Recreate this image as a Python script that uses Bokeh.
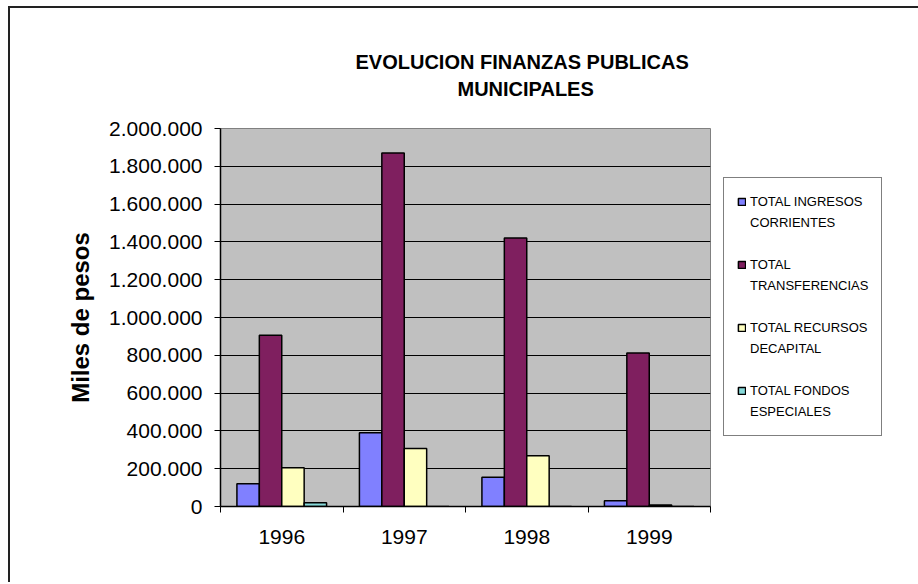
import numpy as np
from bokeh.plotting import figure
from bokeh.models import Range1d, FixedTicker, Legend, LegendItem, Title
from bokeh.embed import file_html
from bokeh.resources import INLINE

# ---- data ----
years = ["1996", "1997", "1998", "1999"]
ingresos_corrientes = [120000, 390000, 155000, 30000]
transferencias = [906000, 1871000, 1420000, 812000]
recursos_capital = [205000, 307000, 268000, 8000]
fondos_especiales = [20000, 0, 0, 0]
series_values = [ingresos_corrientes, transferencias, recursos_capital, fondos_especiales]
series_labels = [
    ["TOTAL INGRESOS", "CORRIENTES"],
    ["TOTAL", "TRANSFERENCIAS"],
    ["TOTAL RECURSOS", "DECAPITAL"],
    ["TOTAL FONDOS", "ESPECIALES"],
]
series_colors = ["#8080FF", "#7F1F5F", "#FFFFC0", "#86D9D9"]
y_ticks = [0, 200000, 400000, 600000, 800000, 1000000, 1200000, 1400000, 1600000, 1800000, 2000000]
y_tick_labels = ["0", "200.000", "400.000", "600.000", "800.000", "1.000.000",
                 "1.200.000", "1.400.000", "1.600.000", "1.800.000", "2.000.000"]
title_lines = ["EVOLUCION FINANZAS PUBLICAS", "MUNICIPALES"]
y_label = "Miles de pesos"

FONT = "Liberation Sans"

p = figure(frame_width=490, frame_height=378, output_backend="svg", toolbar_location=None,
           x_range=Range1d(0, len(years)), y_range=Range1d(y_ticks[0], y_ticks[-1]),
           min_border_left=210, min_border_right=206, min_border_top=120, min_border_bottom=76)
p.margin = (6, 0, 0, 8)
p.styles = {"border-left": "2px solid #222222", "border-top": "2px solid #222222"}

p.background_fill_color = "#C0C0C0"
p.border_fill_color = "white"
p.outline_line_color = "#808080"
p.outline_line_width = 1

# bars
centers = np.arange(len(years)) + 0.5
bar_w = 0.183
offsets = (np.arange(len(series_values)) - (len(series_values) - 1) / 2) * bar_w
renderers = []
for vals, off, col in zip(series_values, offsets, series_colors):
    r = p.vbar(x=centers + off, top=vals, bottom=0, width=bar_w,
               fill_color=col, line_color="black", line_width=1.5)
    renderers.append(r)
blank = p.vbar(x=[], top=[], width=bar_w, fill_alpha=0, line_alpha=0)

# x axis: labels at centres, tick marks at boundaries
xax = p.xaxis[0]
xax.ticker = FixedTicker(ticks=list(centers), minor_ticks=list(range(len(years) + 1)))
xax.major_label_overrides = {float(c): y for c, y in zip(centers, years)}
xax.major_tick_out = 0
xax.major_tick_in = 0
xax.minor_tick_out = 6
xax.minor_tick_in = 0
xax.minor_tick_line_color = "black"
xax.axis_line_color = "black"
xax.axis_line_width = 1.5
xax.major_label_text_font = FONT
xax.major_label_text_font_size = "21px"
xax.major_label_text_color = "black"
xax.major_label_standoff = 17

# y axis
yax = p.yaxis[0]
yax.ticker = FixedTicker(ticks=y_ticks, minor_ticks=[])
yax.major_label_overrides = {t: l for t, l in zip(y_ticks, y_tick_labels)}
yax.major_tick_out = 6
yax.major_tick_in = 0
yax.major_tick_line_color = "black"
yax.axis_line_color = "black"
yax.axis_line_width = 1.5
yax.major_label_text_font = FONT
yax.major_label_text_font_size = "21px"
yax.major_label_text_color = "black"
yax.major_label_standoff = 12
yax.axis_label = y_label
yax.axis_label_text_font = FONT
yax.axis_label_text_font_size = "24px"
yax.axis_label_text_font_style = "bold"
yax.axis_label_text_color = "black"
yax.axis_label_standoff = 12

p.xgrid.grid_line_color = None
p.ygrid.ticker = FixedTicker(ticks=y_ticks[1:-1])
p.ygrid.grid_line_color = "black"
p.ygrid.grid_line_width = 1

# titles (spacer keeps the two title lines clear of the plot area)
p.add_layout(Title(text=" ", standoff=10), "above")
p.add_layout(Title(text=title_lines[1], align="left", offset=237, standoff=3,
                   text_font=FONT, text_font_size="20px", text_font_style="bold",
                   text_color="black"), "above")
p.add_layout(Title(text=title_lines[0], align="left", offset=135, standoff=3,
                   text_font=FONT, text_font_size="20px", text_font_style="bold",
                   text_color="black"), "above")

# legend (one item per text line, glyph on the first line of each series)
items = []
for i, (lines, r) in enumerate(zip(series_labels, renderers)):
    items.append(LegendItem(label=lines[0], renderers=[r]))
    items.append(LegendItem(label=lines[1], renderers=[blank]))
    if i < len(series_labels) - 1:
        items.append(LegendItem(label=" ", renderers=[blank]))
legend = Legend(items=items, location=(13, 70), margin=0, padding=13, spacing=0,
                glyph_width=9, glyph_height=9, label_standoff=4, label_height=21,
                label_text_font=FONT, label_text_font_size="13px", label_text_color="black",
                border_line_color="black", border_line_width=1, background_fill_color="white",
                background_fill_alpha=1.0)
p.add_layout(legend, "right")

open("out.html", "w").write(file_html(p, INLINE))
